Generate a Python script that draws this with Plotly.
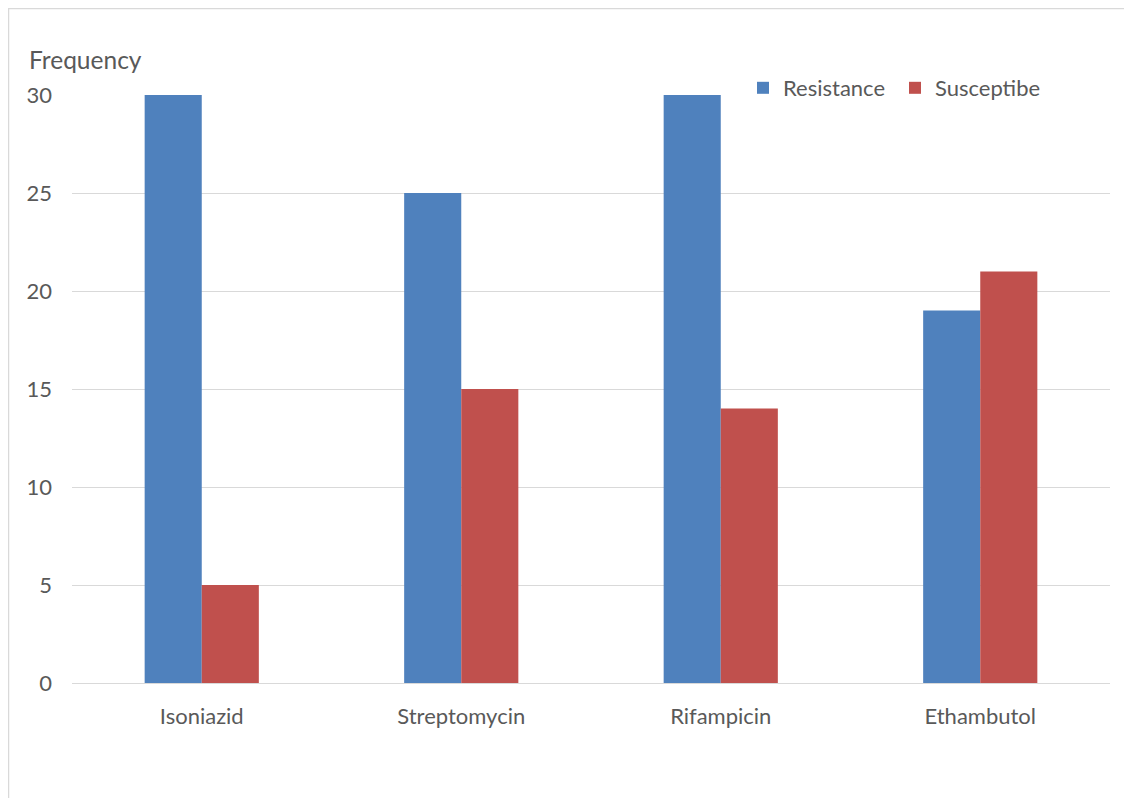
import plotly.graph_objects as go

categories = ["Isoniazid", "Streptomycin", "Rifampicin", "Ethambutol"]
resistance = [30, 25, 30, 19]
susceptibe = [5, 15, 14, 21]
y_ticks = [0, 5, 10, 15, 20, 25, 30]

OFF = 8  # page body margin
W, H = 1132 - OFF, 798 - OFF
L, R, T, B = 72 - OFF, 22, 95 - OFF, 115
pw, ph = W - L - R, H - T - B

def px_x(x):
    return (x - OFF - L) / pw

def px_y(y):
    return (H - B - (y - OFF)) / ph

font_fam = "Lato, Open Sans, sans-serif"
gray = "#595959"

fig = go.Figure()
fig.add_trace(go.Bar(x=categories, y=resistance, name="Resistance",
                     marker=dict(color="#4f81bd", line=dict(width=0))))
fig.add_trace(go.Bar(x=categories, y=susceptibe, name="Susceptibe",
                     marker=dict(color="#c0504d", line=dict(width=0))))

fig.update_layout(
    width=W, height=H,
    margin=dict(l=L, r=R, t=T, b=B, autoexpand=False),
    paper_bgcolor="white", plot_bgcolor="white",
    barmode="group", bargap=0.56, bargroupgap=0,
    font=dict(family=font_fam, size=22, color=gray),
    showlegend=True,
    legend=dict(orientation="h", x=px_x(743), y=px_y(88), xanchor="left", yanchor="middle",
                font=dict(size=22, color=gray), bgcolor="rgba(0,0,0,0)",
                itemwidth=30, traceorder="normal", entrywidth=107, entrywidthmode="pixels"),
    xaxis=dict(showgrid=False, showline=False, zeroline=False, ticks="",
               ticklabelstandoff=18, tickfont=dict(size=22, color=gray)),
    yaxis=dict(range=[0, 30], tickvals=y_ticks, showgrid=True, gridcolor="#d9d9d9",
               gridwidth=1, zeroline=True, zerolinecolor="#d9d9d9", zerolinewidth=1,
               showline=False, ticks="", ticklabelstandoff=19,
               tickfont=dict(size=22, color=gray)),
    shapes=[dict(type="rect", xref="paper", yref="paper",
                 x0=px_x(8.5), x1=px_x(1200), y0=px_y(900), y1=px_y(8.5),
                 line=dict(color="#d9d9d9", width=1.5), fillcolor="rgba(0,0,0,0)",
                 layer="below")],
    annotations=[dict(text="Frequency", xref="paper", yref="paper",
                      x=px_x(27), y=px_y(60), xanchor="left", yanchor="middle",
                      showarrow=False, font=dict(size=24.5, color=gray))],
)

fig.write_html("out.html")
